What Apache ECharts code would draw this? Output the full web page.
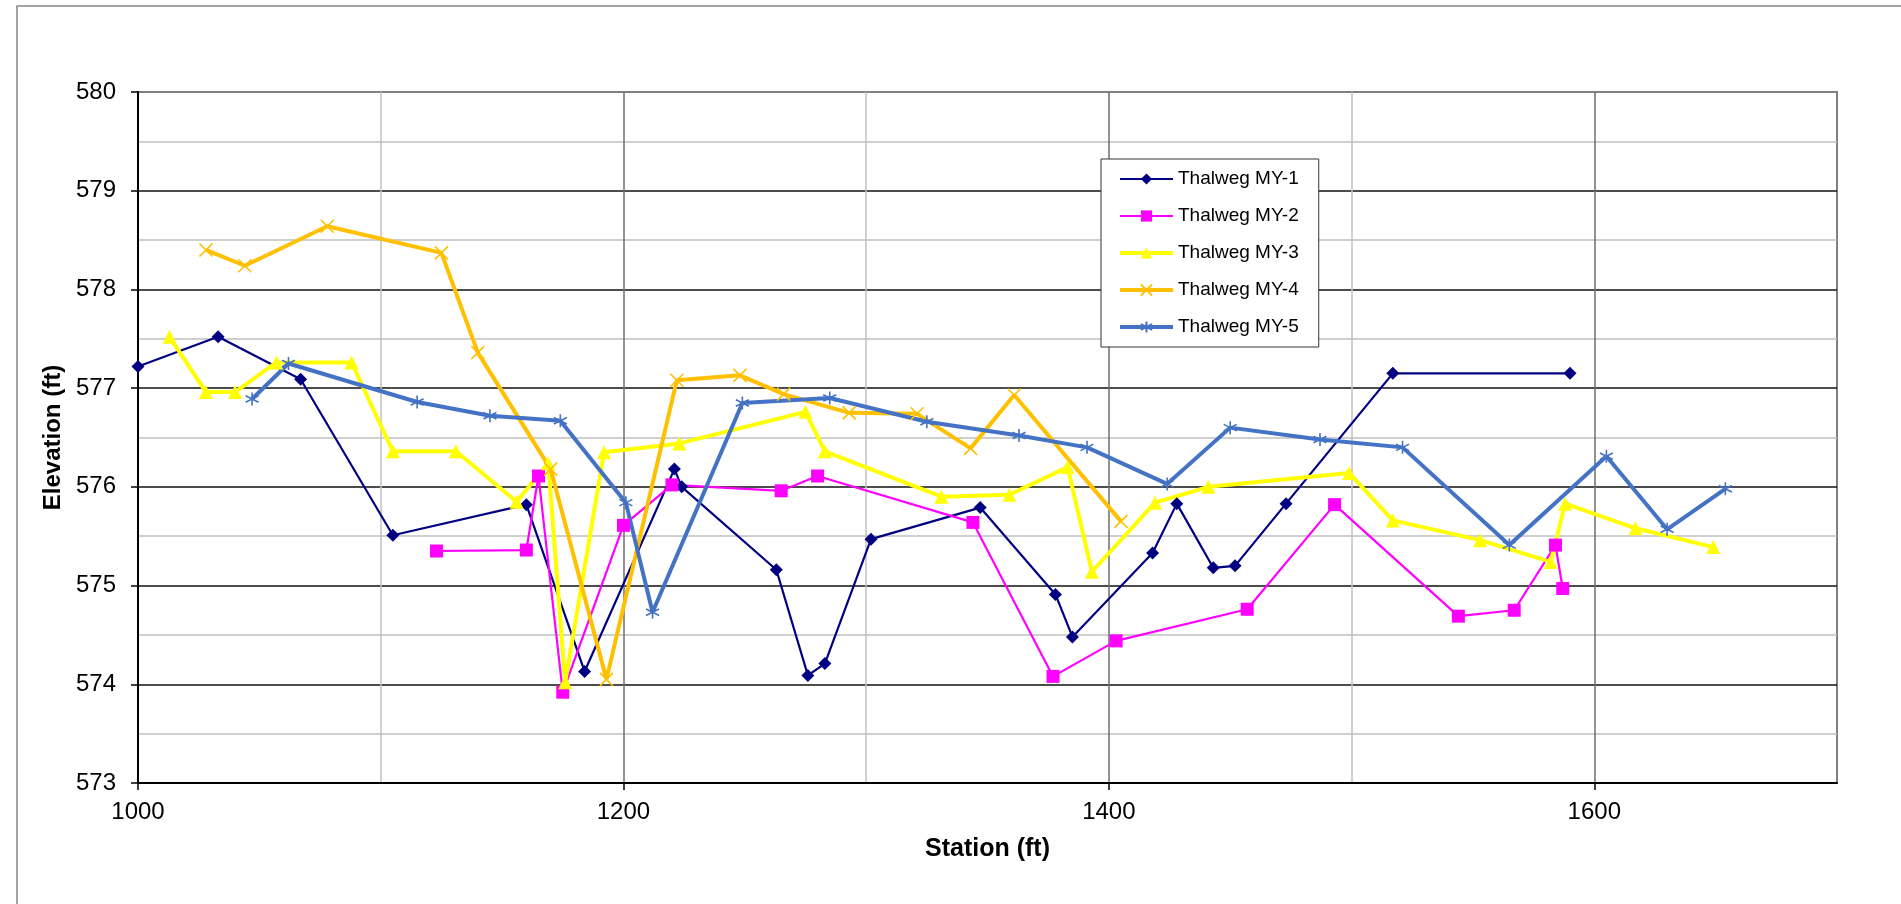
<!DOCTYPE html>
<html>
<head>
<meta charset="utf-8">
<style>
  html, body { margin: 0; padding: 0; background: #ffffff; }
  #chart { width: 1901px; height: 904px; }
</style>
<script src="https://cdn.jsdelivr.net/npm/echarts@6/dist/echarts.min.js"></script>
</head>
<body>
<div id="chart"></div>
<script>
// ---- Data ----
const seriesNames = ['Thalweg MY-1', 'Thalweg MY-2', 'Thalweg MY-3', 'Thalweg MY-4', 'Thalweg MY-5'];

const my1Station = [1000, 1033, 1067, 1105, 1160, 1184, 1221, 1224, 1263, 1276, 1283, 1302, 1347, 1378, 1385, 1418, 1428, 1443, 1452, 1473, 1517, 1590];
const my1Elev    = [577.22, 577.52, 577.09, 575.51, 575.82, 574.13, 576.18, 576.00, 575.16, 574.09, 574.21, 575.47, 575.79, 574.91, 574.48, 575.33, 575.83, 575.18, 575.20, 575.83, 577.15, 577.15];

const my2Station = [1123, 1160, 1165, 1175, 1200, 1220, 1265, 1280, 1344, 1377, 1403, 1457, 1493, 1544, 1567, 1584, 1587];
const my2Elev    = [575.35, 575.36, 576.11, 573.92, 575.61, 576.02, 575.96, 576.11, 575.64, 574.08, 574.44, 574.76, 575.82, 574.69, 574.75, 575.41, 574.97];

const my3Station = [1013, 1028, 1040, 1057, 1088, 1105, 1131, 1156, 1169, 1176, 1192, 1223, 1275, 1283, 1331, 1359, 1383, 1393, 1419, 1441, 1499, 1517, 1553, 1582, 1588, 1617, 1649];
const my3Elev    = [577.52, 576.96, 576.96, 577.26, 577.26, 576.36, 576.36, 575.85, 576.24, 574.02, 576.35, 576.44, 576.76, 576.36, 575.90, 575.92, 576.20, 575.14, 575.84, 576.00, 576.14, 575.66, 575.46, 575.24, 575.83, 575.58, 575.39];

const my4Station = [1028, 1044, 1078, 1125, 1140, 1170, 1193, 1222, 1248, 1266, 1293, 1321, 1343, 1361, 1405];
const my4Elev    = [578.40, 578.24, 578.64, 578.37, 577.36, 576.18, 574.05, 577.08, 577.13, 576.94, 576.75, 576.74, 576.39, 576.93, 575.65];

const my5Station = [1047, 1062, 1115, 1145, 1174, 1201, 1212, 1249, 1285, 1325, 1363, 1391, 1424, 1450, 1487, 1521, 1565, 1605, 1630, 1654];
const my5Elev    = [576.89, 577.25, 576.86, 576.72, 576.67, 575.84, 574.73, 576.85, 576.90, 576.66, 576.52, 576.40, 576.03, 576.60, 576.48, 576.40, 575.41, 576.31, 575.57, 575.98];

const xTickLabels = [1000, 1200, 1400, 1600];
const yTickLabels = [573, 574, 575, 576, 577, 578, 579, 580];

// ---- Chart ----
function pairs(xs, ys) { return xs.map((x, i) => [x, ys[i]]); }

const FONT = '"Liberation Sans", Arial, Helvetica, sans-serif';
const X_PATH = 'path://M0,0L10,10M10,0L0,10';
const STAR_PATH = 'path://M5,0L5,10M0.7,2.5L9.3,7.5M0.7,7.5L9.3,2.5';

const seriesColors = ['#000080', '#ff00ff', '#ffff00', '#ffc000', '#4472c4'];
const seriesWidths = [2.2, 2.2, 4, 4, 4];

const chart = echarts.init(document.getElementById('chart'), null, { renderer: 'canvas' });

const option = {
  animation: false,
  backgroundColor: '#ffffff',
  graphic: [{
    type: 'rect',
    silent: true,
    z: -10,
    shape: { x: 17, y: 6, width: 2000, height: 1000 },
    style: { fill: 'none', stroke: '#868686', lineWidth: 1.5 }
  }],
  grid: {
    left: 138, right: 64, top: 92, bottom: 121,
    show: true, borderColor: '#808080', borderWidth: 2, backgroundColor: 'transparent'
  },
  legend: {
    orient: 'vertical',
    left: 1101, top: 159,
    padding: [9, 20, 9, 17],
    backgroundColor: '#ffffff',
    borderColor: '#333333', borderWidth: 1, borderRadius: 0,
    itemWidth: 53, itemHeight: 14, itemGap: 15,
    textStyle: { fontFamily: FONT, fontSize: 19, color: '#000', lineHeight: 22 },
    data: seriesNames.map((n, i) => ({ name: n, lineStyle: { width: seriesWidths[i], color: seriesColors[i] } }))
  },
  xAxis: [{
    type: 'value',
    min: 1000, max: 1700, interval: 100,
    name: 'Station (ft)',
    nameLocation: 'middle',
    nameGap: 54,
    nameTextStyle: { fontFamily: FONT, fontSize: 25, fontWeight: 'bold', color: '#000' },
    axisLine: { show: true, onZero: false, lineStyle: { color: '#000', width: 2 } },
    axisTick: { show: false },
    axisLabel: {
      margin: 17, fontFamily: FONT, fontSize: 24, color: '#000',
      showMaxLabel: false,
      formatter: v => (xTickLabels.indexOf(v) >= 0 ? String(v) : '')
    },
    splitLine: { show: true, showMaxLine: false, lineStyle: { color: ['#6e6e6e', '#c0c0c0'], width: 1.5 } }
  }, {
    // tick marks only, at the labelled stations
    type: 'value',
    min: 1000, max: 1700, position: 'bottom', offset: 0,
    axisLine: { show: false },
    axisTick: { show: true, inside: false, length: 7, customValues: xTickLabels, lineStyle: { color: '#000', width: 1.5 } },
    axisLabel: { show: false },
    splitLine: { show: false }
  }],
  yAxis: {
    type: 'value',
    min: 573, max: 580, interval: 1,
    name: 'Elevation (ft)',
    nameLocation: 'middle',
    nameGap: 72,
    nameRotate: 90,
    nameTextStyle: { fontFamily: FONT, fontSize: 24, fontWeight: 'bold', color: '#000' },
    axisLine: { show: true, onZero: false, lineStyle: { color: '#000', width: 2 } },
    axisTick: { show: true, inside: false, length: 7, lineStyle: { color: '#000', width: 1.5 } },
    axisLabel: { margin: 22, fontFamily: FONT, fontSize: 24, color: '#000' },
    minorTick: { show: false, splitNumber: 2 },
    minorSplitLine: { show: true, lineStyle: { color: '#c0c0c0', width: 1.5 } },
    splitLine: { show: true, showMaxLine: false, lineStyle: { color: '#111111', width: 1.5 } }
  },
  series: [
    {
      name: seriesNames[0], type: 'line', data: pairs(my1Station, my1Elev),
      symbol: 'diamond', symbolSize: 13,
      lineStyle: { color: seriesColors[0], width: seriesWidths[0] },
      itemStyle: { color: seriesColors[0] },
      emphasis: { disabled: true }
    },
    {
      name: seriesNames[1], type: 'line', data: pairs(my2Station, my2Elev),
      symbol: 'rect', symbolSize: 13,
      lineStyle: { color: seriesColors[1], width: seriesWidths[1] },
      itemStyle: { color: seriesColors[1] },
      emphasis: { disabled: true }
    },
    {
      name: seriesNames[2], type: 'line', data: pairs(my3Station, my3Elev),
      symbol: 'triangle', symbolSize: 14,
      lineStyle: { color: seriesColors[2], width: seriesWidths[2] },
      itemStyle: { color: seriesColors[2] },
      emphasis: { disabled: true }
    },
    {
      name: seriesNames[3], type: 'line', data: pairs(my4Station, my4Elev),
      symbol: X_PATH, symbolSize: 13,
      lineStyle: { color: seriesColors[3], width: seriesWidths[3] },
      itemStyle: { color: seriesColors[3], borderColor: seriesColors[3], borderWidth: 1.6 },
      emphasis: { disabled: true }
    },
    {
      name: seriesNames[4], type: 'line', data: pairs(my5Station, my5Elev),
      symbol: STAR_PATH, symbolSize: 13,
      lineStyle: { color: seriesColors[4], width: seriesWidths[4] },
      itemStyle: { color: seriesColors[4], borderColor: seriesColors[4], borderWidth: 1.6 },
      emphasis: { disabled: true }
    }
  ]
};

chart.setOption(option);
</script>
</body>
</html>
